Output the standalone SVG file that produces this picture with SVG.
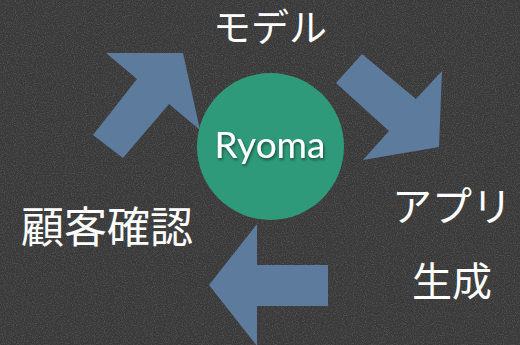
<svg xmlns="http://www.w3.org/2000/svg" width="520" height="345" viewBox="0 0 520 345">
<style>
.arrow{fill:#5d7c9d;}
.lbl{font-family:"Noto Sans CJK JP","Noto Sans CJK SC",sans-serif;fill:#ffffff;text-anchor:middle;}
.ry{font-family:Lato,"Open Sans",sans-serif;font-size:37px;fill:#ffffff;text-anchor:middle;}
</style>
<defs>
<filter id="noise" x="0" y="0" width="100%" height="100%">
<feTurbulence type="fractalNoise" baseFrequency="0.9" numOctaves="2" seed="3" result="n"/>
<feColorMatrix in="n" type="matrix" values="0 0 0 0 1  0 0 0 0 1  0 0 0 0 1  0 0 0 0.9 -0.38" result="speck"/>
<feComposite in="speck" in2="SourceGraphic" operator="in"/>
</filter>
<filter id="shadow" x="-20%" y="-20%" width="140%" height="140%">
<feDropShadow dx="1" dy="2" stdDeviation="1.5" flood-color="#000" flood-opacity="0.5"/>
</filter>
</defs>
<rect id="background" x="0" y="0" width="520" height="345" fill="#393939"/>
<rect x="0" y="0" width="520" height="345" fill="#393939" filter="url(#noise)" opacity="0.35"/>
<g id="connectors">
<polygon id="arrow-model" class="arrow" points="183,53 200,130 169,104 123,158 93,135 137,79 106,53"/>
<polygon id="arrow-app" class="arrow" points="362,54 416,99 442,71 439,147 363,160 389,131 336,83"/>
<polygon id="arrow-customer" class="arrow" points="209,285 257,224 257,265 328,265 328,306 257,306 257,346"/>
</g>
<g id="node-ryoma">
<circle cx="270.5" cy="146.5" r="73.5" fill="#2f9a79"/>
<text class="ry" x="270" y="158" filter="url(#shadow)">Ryoma</text>
</g>
<g id="node-model">
<text class="lbl" x="270" y="41" font-size="38">モデル</text>
</g>
<g id="node-app">
<text class="lbl" x="452" y="221" font-size="40">アプリ</text>
<text class="lbl" x="452" y="296" font-size="40">生成</text>
</g>
<g id="node-customer">
<text class="lbl" x="107" y="243" font-size="43">顧客確認</text>
</g>
</svg>
